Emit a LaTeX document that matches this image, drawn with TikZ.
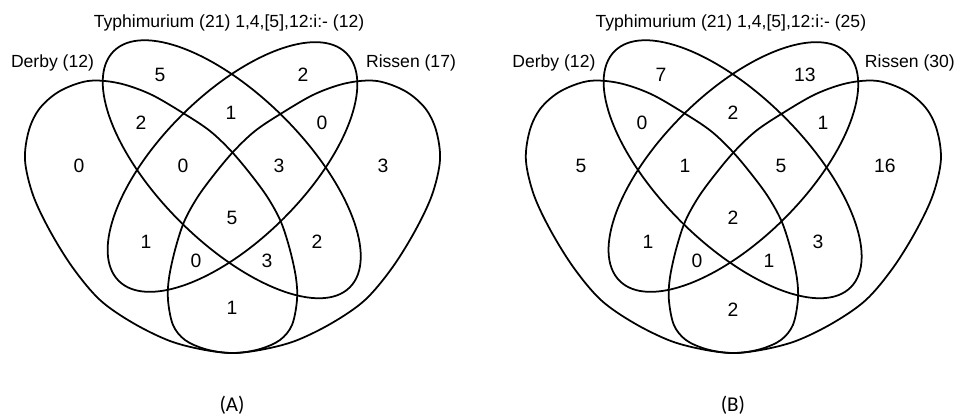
\documentclass[tikz,border=0pt]{standalone}
\usepackage{fontspec}
\setmainfont{Liberation Sans}
\newfontfamily\panelfont{Carlito}
\usetikzlibrary{positioning}

% outline of the Derby set, Rissen is drawn as its mirror image
\newcommand{\derbyoutline}{plot[smooth cycle, tension=0.55] coordinates {
    (25,160) (29,130) (40,108) (60,91) (88,81) (118,83) (150,94) (183,113)
    (210,131) (232,152) (252,176) (268,198) (281,222) (290,250) (296,278)
    (297,300) (292,325) (280,340) (260,349) (235,353) (205,350) (170,341)
    (133,323) (100,300) (73,268) (50,231) (33,195)}}

\newcommand{\vennsets}{%
  \draw[setline] \derbyoutline;
  \draw[setline, shift={(465,0)}, xscale=-1] \derbyoutline;
  \draw[setline, rotate around={-45:(231.75,169.25)}] (231.75,169.25) ellipse (3.34cm and 1.47cm);
  \draw[setline, rotate around={45:(232.5,167)}] (232.5,167) ellipse (3.22cm and 1.45cm);
}

\begin{document}
\begin{tikzpicture}[x=0.02cm, y=-0.02cm,
    setline/.style={line width=1pt},
    count/.style={font=\fontsize{11}{13}\selectfont},
    setname/.style={font=\fontsize{10}{12}\selectfont},
    panel/.style={font=\panelfont\fontsize{12}{14}\selectfont}
  ]
  \useasboundingbox (0,0) rectangle (958,416);

  % Panel A
  \begin{scope}
    \vennsets
    \node[setname] (a-top) at (229,23) {Typhimurium (21) 1,4,[5],12:i:- (12)};
    \node[setname] (a-derby) at (52.5,63) {Derby (12)};
    \node[setname] (a-rissen) at (411,63) {Rissen (17)};

    \node[count] (a-t) at (160,75) {5};
    \node[count] (a-m) at (303,75) {2};
    \node[count] (a-dt) at (141,123) {2};
    \node[count] (a-tm) at (231,113) {1};
    \node[count] (a-mr) at (322,123) {0};
    \node[count] (a-d) at (79,166) {0};
    \node[count] (a-dtm) at (183,166) {0};
    \node[count] (a-tmr) at (279,166) {3};
    \node[count] (a-r) at (383,166) {3};
    \node[count] (a-dtmr) at (232,218) {5};
    \node[count] (a-dm) at (146,242) {1};
    \node[count] (a-tr) at (317,242) {2};
    \node[count] (a-dmr) at (196,261) {0};
    \node[count] (a-dtr) at (267,261) {3};
    \node[count] (a-dr) at (232,308) {1};

    \node[panel] (a-caption) at (232,405) {(A)};
  \end{scope}

  % Panel B
  \begin{scope}[xshift=10.02cm]
    \vennsets
    \node[setname] (b-top) at (230,23) {Typhimurium (21) 1,4,[5],12:i:- (25)};
    \node[setname] (b-derby) at (53,63) {Derby (12)};
    \node[setname] (b-rissen) at (409,63) {Rissen (30)};

    \node[count] (b-t) at (160,75) {7};
    \node[count] (b-m) at (304,75) {13};
    \node[count] (b-dt) at (141,123) {0};
    \node[count] (b-tm) at (232,113) {2};
    \node[count] (b-mr) at (322,123) {1};
    \node[count] (b-d) at (80,166) {5};
    \node[count] (b-dtm) at (184,166) {1};
    \node[count] (b-tmr) at (280,166) {5};
    \node[count] (b-r) at (384,166) {16};
    \node[count] (b-dtmr) at (232,218) {2};
    \node[count] (b-dm) at (147,242) {1};
    \node[count] (b-tr) at (317,242) {3};
    \node[count] (b-dmr) at (196,261) {0};
    \node[count] (b-dtr) at (268,261) {1};
    \node[count] (b-dr) at (232,310) {2};

    \node[panel] (b-caption) at (232,405) {(B)};
  \end{scope}
\end{tikzpicture}
\end{document}
